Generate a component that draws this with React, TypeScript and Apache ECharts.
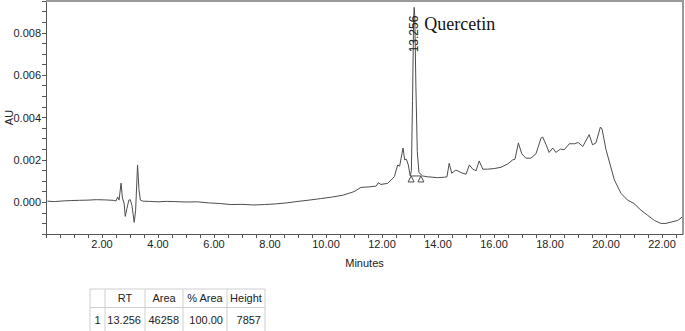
import React, { useEffect, useRef } from "react";
import * as echarts from "echarts";

// Chromatogram trace (minutes, AU)
const times = [
  0.05, 0.3, 0.6, 0.9, 1.2, 1.5, 1.8, 2.1, 2.4, 2.5, 2.56, 2.61, 2.68, 2.73, 2.79, 2.83, 2.89, 2.96,
  3.01, 3.07, 3.15, 3.2, 3.27, 3.32, 3.37, 3.46, 3.7, 4.0, 4.3, 4.6, 5.0, 5.4, 5.8, 6.2, 6.6, 7.0,
  7.4, 7.8, 8.2, 8.6, 9.0, 9.4, 9.8, 10.2, 10.6, 11.0, 11.25, 11.5, 11.79, 11.87, 11.96, 12.2,
  12.44, 12.56, 12.63, 12.75, 12.81, 12.87, 12.94, 13.01, 13.05, 13.09, 13.13, 13.15, 13.17, 13.21,
  13.26, 13.32, 13.45, 13.63, 13.99, 14.23, 14.32, 14.4, 14.49, 14.64, 14.82, 15.0, 15.12, 15.24,
  15.36, 15.47, 15.6, 15.77, 16.01, 16.25, 16.49, 16.67, 16.75, 16.87, 16.99, 17.14, 17.32, 17.5,
  17.68, 17.74, 17.86, 17.97, 18.1, 18.21, 18.37, 18.51, 18.69, 18.87, 19.01, 19.17, 19.4, 19.52,
  19.64, 19.8, 19.86, 20.0, 20.3, 20.54, 20.77, 21.0, 21.25, 21.49, 21.73, 21.96, 22.14, 22.32,
  22.56, 22.75,
];
const absorbance = [
  0.00005, 0.00003, 0.00006, 0.00008, 0.00009, 0.0001, 0.00012, 0.00011, 0.00009, 0.00006, 0.00025,
  0.0001, 0.0009, 0.0002, -0.00005, -0.00067, -0.0003, 0.0001, 0.00012, -0.00015, -0.00095, -0.0004,
  0.00176, 0.0006, 0.0001, 0.00005, 0.00004, 0.00002, 0.00004, 0.00003, 0.00001, 0.00002, -0.00003,
  -0.00006, -0.00011, -0.0001, -0.00013, -0.00011, -0.00008, -0.00003, 0.00004, 0.0001, 0.00017,
  0.00024, 0.00033, 0.0005, 0.0007, 0.00072, 0.00076, 0.00092, 0.00084, 0.00089, 0.0012, 0.00176,
  0.0017, 0.00256, 0.002, 0.00203, 0.00176, 0.00124, 0.0015, 0.0048, 0.0087, 0.0092, 0.0088, 0.0055,
  0.0024, 0.0014, 0.00124, 0.0012, 0.00116, 0.00118, 0.0012, 0.00184, 0.00137, 0.00152, 0.0014,
  0.00132, 0.00176, 0.00156, 0.00149, 0.00195, 0.00156, 0.00156, 0.00159, 0.00165, 0.00181, 0.002,
  0.00203, 0.0028, 0.00229, 0.00208, 0.00208, 0.00229, 0.00303, 0.00308, 0.00271, 0.00235, 0.00256,
  0.00235, 0.00251, 0.00248, 0.00276, 0.00276, 0.00282, 0.00263, 0.00319, 0.00271, 0.0028, 0.00355,
  0.00345, 0.00248, 0.00105, 0.00041, 0.0001, -0.00006, -0.00038, -0.00062, -0.00086, -0.001, -0.001,
  -0.00094, -0.00086, -0.00067,
];

// Axis ranges
const xMin = 0;
const xMax = 22.75;
const yMin = -0.0015;
const yMax = 0.0095;
const yAxisTitle = "AU";
const xAxisTitle = "Minutes";

// Integration markers
const markerTimes = [13.04, 13.39];
const markerValue = 0.00124;

// Peak annotation
const peakTime = 13.15;
const peakTop = 0.0092;
const peakLabel = "13.256";
const compoundName = "Quercetin";

// Peak table
const tableHeaders = ["", "RT", "Area", "% Area", "Height"];
const tableRow = ["1", "13.256", "46258", "100.00", "7857"];

const FONT = "'Liberation Sans', Arial, sans-serif";

export default function App() {
  const ref = useRef<HTMLDivElement>(null);

  useEffect(() => {
    if (!ref.current) return;
    const chart = echarts.init(ref.current, null, { renderer: "svg" });
    const trace = times.map((t, i) => [t, absorbance[i]]);
    const markers = markerTimes.map((t) => [t, markerValue]);

    const option: any = {
      animation: false,
      backgroundColor: "#ffffff",
      grid: { left: 46, right: 2, top: 1, height: 233, outerBoundsMode: "none", containLabel: false },
      xAxis: {
        type: "value",
        min: xMin,
        max: xMax,
        interval: 0.5,
        name: xAxisTitle,
        nameLocation: "middle",
        nameGap: 23,
        nameTextStyle: { fontFamily: FONT, fontSize: 11, color: "#222" },
        axisLine: { show: true, onZero: false, lineStyle: { color: "#555", width: 1 } },
        axisTick: { show: true, length: 4, lineStyle: { color: "#555" } },
        axisLabel: {
          margin: 4,
          fontFamily: FONT,
          fontSize: 11,
          color: "#222",
          showMaxLabel: false,
          formatter: (v: number) =>
            v > 0 && Math.abs(v / 2 - Math.round(v / 2)) < 1e-6 ? v.toFixed(2) : "",
        },
        splitLine: { show: false },
      },
      yAxis: {
        type: "value",
        min: yMin,
        max: yMax,
        interval: 0.0005,
        axisLine: { show: true, onZero: false, lineStyle: { color: "#555", width: 1 } },
        axisTick: { show: true, length: 4, lineStyle: { color: "#555" } },
        axisLabel: {
          margin: 5,
          fontFamily: FONT,
          fontSize: 11,
          color: "#222",
          formatter: (v: number) =>
            Math.abs(v / 0.002 - Math.round(v / 0.002)) < 1e-6 ? v.toFixed(3) : "",
        },
        splitLine: { show: false },
      },
      series: [
        {
          type: "line",
          data: trace,
          showSymbol: false,
          symbol: "none",
          lineStyle: { color: "#4d4d4d", width: 1 },
          silent: true,
        },
        {
          type: "line",
          data: markers,
          showSymbol: false,
          symbol: "none",
          lineStyle: { color: "#4d4d4d", width: 1 },
          silent: true,
        },
        {
          type: "scatter",
          data: markers,
          symbol: "triangle",
          symbolSize: [6, 6],
          symbolOffset: [0, 3],
          itemStyle: { color: "#ffffff", borderColor: "#4d4d4d", borderWidth: 1, opacity: 1 },
          silent: true,
        },
      ],
    };
    chart.setOption(option);

    const [px, py] = chart.convertToPixel({ xAxisIndex: 0, yAxisIndex: 0 }, [peakTime, peakTop]) as number[];
    const [gx0, gy0] = chart.convertToPixel({ xAxisIndex: 0, yAxisIndex: 0 }, [xMin, yMax]) as number[];
    const [gx1, gy1] = chart.convertToPixel({ xAxisIndex: 0, yAxisIndex: 0 }, [xMax, yMin]) as number[];
    const frameStyle = { stroke: "#9a9a9a", lineWidth: 2 };

    // table geometry
    const colEdges = [90, 105, 145, 183, 227, 265];
    const tTop = 289;
    const tMid = 307.5;
    const tBot = 331;
    const lineStyle = { stroke: "#cfcfcf", lineWidth: 1 };
    const tableEls: any[] = [];
    tableEls.push({ type: "line", shape: { x1: colEdges[0], y1: tTop, x2: colEdges[5], y2: tTop }, style: lineStyle });
    tableEls.push({ type: "line", shape: { x1: colEdges[0], y1: tMid, x2: colEdges[5], y2: tMid }, style: lineStyle });
    colEdges.forEach((x) =>
      tableEls.push({ type: "line", shape: { x1: x, y1: tTop, x2: x, y2: tBot }, style: lineStyle })
    );
    tableHeaders.forEach((h, i) => {
      if (!h) return;
      tableEls.push({
        type: "text",
        x: (colEdges[i] + colEdges[i + 1]) / 2,
        y: (tTop + tMid) / 2,
        style: { text: h, fontFamily: FONT, fontSize: 11, fill: "#222", align: "center", verticalAlign: "middle" },
      });
    });
    tableRow.forEach((c, i) => {
      const first = i === 0;
      tableEls.push({
        type: "text",
        x: first ? (colEdges[0] + colEdges[1]) / 2 : colEdges[i + 1] - 4,
        y: tMid + 12,
        style: {
          text: c,
          fontFamily: FONT,
          fontSize: 11,
          fill: "#222",
          align: first ? "center" : "right",
          verticalAlign: "middle",
        },
      });
    });

    chart.setOption({
      graphic: [
        { type: "line", shape: { x1: gx0, y1: gy0, x2: gx1 + 1, y2: gy0 }, style: frameStyle, z: 5 },
        { type: "line", shape: { x1: gx1, y1: gy0, x2: gx1, y2: gy1 }, style: frameStyle, z: 5 },
        {
          type: "text",
          x: 9,
          y: (gy0 + gy1) / 2,
          rotation: Math.PI / 2,
          style: {
            text: yAxisTitle,
            fontFamily: FONT,
            fontSize: 11,
            fill: "#222",
            align: "center",
            verticalAlign: "middle",
          },
        },
        {
          type: "text",
          x: px,
          y: py + 45,
          rotation: Math.PI / 2,
          style: {
            text: peakLabel,
            fontFamily: FONT,
            fontSize: 12,
            fill: "#222",
            align: "left",
            verticalAlign: "middle",
          },
          z: 10,
        },
        {
          type: "text",
          x: px + 10,
          y: py + 17,
          style: {
            text: compoundName,
            fontFamily: "'Liberation Serif', 'Times New Roman', serif",
            fontSize: 18,
            fill: "#111",
            align: "left",
            verticalAlign: "middle",
          },
          z: 10,
        },
        ...tableEls,
      ],
    });

    return () => chart.dispose();
  }, []);

  return (
    <div
      ref={ref}
      style={{ position: "fixed", left: 0, top: 0, width: 685, height: 331, background: "#fff" }}
    />
  );
}
